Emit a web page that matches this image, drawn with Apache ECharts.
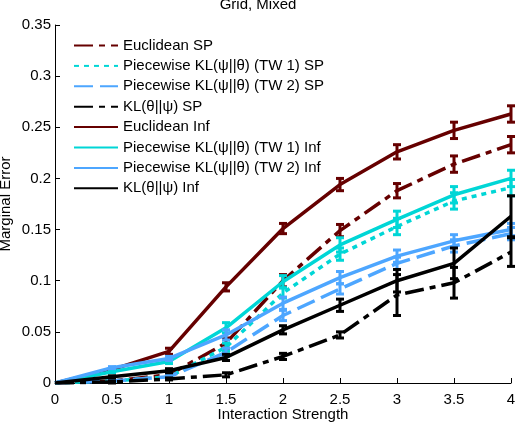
<!DOCTYPE html>
<html>
<head>
<meta charset="utf-8">
<title>Grid, Mixed</title>
<script src="https://cdn.jsdelivr.net/npm/echarts@6/dist/echarts.min.js"></script>
<style>
html,body{margin:0;padding:0;background:#fff;}
#main{width:516px;height:422px;}
</style>
</head>
<body>
<div id="main"></div>
<script>
// interaction strength (x)
var xs = [0, 0.5, 1, 1.5, 2, 2.5, 3, 3.5, 4];
var xTicks = ['0', '0.5', '1', '1.5', '2', '2.5', '3', '3.5', '4'];

// marginal error
var euclidSP  = [0, 0.002, 0.008, 0.039, 0.100, 0.149, 0.188, 0.214, 0.233];
var tw1SP     = [0, 0.002, 0.006, 0.035, 0.088, 0.126, 0.153, 0.178, 0.191];
var tw2SP     = [0, 0.002, 0.006, 0.030, 0.066, 0.092, 0.117, 0.134, 0.146];
var klSP      = [0, 0.001, 0.004, 0.008, 0.026, 0.047, 0.086, 0.098, 0.128];
var euclidInf = [0, 0.013, 0.031, 0.094, 0.151, 0.194, 0.226, 0.247, 0.263];
var tw1Inf    = [0, 0.011, 0.021, 0.054, 0.099, 0.135, 0.160, 0.184, 0.200];
var tw2Inf    = [0, 0.015, 0.024, 0.047, 0.078, 0.103, 0.124, 0.139, 0.150];
var klInf     = [0, 0.006, 0.012, 0.025, 0.052, 0.076, 0.100, 0.117, 0.163];

// half length of the error bars
var euclidSPErr  = [0, 0.001, 0.002, 0.005, 0.006, 0.006, 0.007, 0.008, 0.008];
var tw1SPErr     = [0, 0.001, 0.002, 0.004, 0.005, 0.006, 0.008, 0.008, 0.008];
var tw2SPErr     = [0, 0.001, 0.002, 0.004, 0.005, 0.005, 0.006, 0.006, 0.006];
var klSPErr      = [0, 0.001, 0.001, 0.002, 0.003, 0.003, 0.020, 0.015, 0.014];
var euclidInfErr = [0, 0.001, 0.003, 0.004, 0.005, 0.006, 0.007, 0.008, 0.008];
var tw1InfErr    = [0, 0.001, 0.002, 0.005, 0.006, 0.007, 0.008, 0.008, 0.008];
var tw2InfErr    = [0, 0.001, 0.002, 0.005, 0.006, 0.006, 0.006, 0.006, 0.006];
var klInfErr     = [0, 0.001, 0.002, 0.003, 0.004, 0.006, 0.011, 0.015, 0.020];

var names = [
	'Euclidean SP',
	'Piecewise KL(\u03c8||\u03b8) (TW 1) SP',
	'Piecewise KL(\u03c8||\u03b8) (TW 2) SP',
	'KL(\u03b8||\u03c8) SP',
	'Euclidean Inf',
	'Piecewise KL(\u03c8||\u03b8) (TW 1) Inf',
	'Piecewise KL(\u03c8||\u03b8) (TW 2) Inf',
	'KL(\u03b8||\u03c8) Inf'
];

var DARKRED = '#660000', CYAN = '#00d6d6', BLUE = '#4da6ff', BLACK = '#000000';
var DASHDOT = [19, 6, 6, 6], DOTTED = [5, 5], DASHED = [19, 7];

var lines = [
	{vals: euclidSP,  err: euclidSPErr,  color: DARKRED, type: DASHDOT},
	{vals: tw1SP,     err: tw1SPErr,     color: CYAN,    type: DOTTED},
	{vals: tw2SP,     err: tw2SPErr,     color: BLUE,    type: DASHED},
	{vals: klSP,      err: klSPErr,      color: BLACK,   type: DASHDOT},
	{vals: euclidInf, err: euclidInfErr, color: DARKRED, type: 'solid'},
	{vals: tw1Inf,    err: tw1InfErr,    color: CYAN,    type: 'solid'},
	{vals: tw2Inf,    err: tw2InfErr,    color: BLUE,    type: 'solid'},
	{vals: klInf,     err: klInfErr,     color: BLACK,   type: 'solid'}
];

function errRender(color){
	return function(params, api){
		var x = api.value(0);
		var lo = api.coord([x, api.value(1)]);
		var hi = api.coord([x, api.value(2)]);
		var cw = 4;
		var st = {stroke: color, lineWidth: 3};
		return {type: 'group', children: [
			{type: 'line', shape: {x1: lo[0], y1: lo[1], x2: hi[0], y2: hi[1]}, style: st},
			{type: 'line', shape: {x1: lo[0]-cw, y1: lo[1], x2: lo[0]+cw, y2: lo[1]}, style: st},
			{type: 'line', shape: {x1: hi[0]-cw, y1: hi[1], x2: hi[0]+cw, y2: hi[1]}, style: st}
		]};
	};
}

var series = [];
lines.forEach(function(l, i){
	var pts = [], bars = [];
	for (var k = 0; k < xs.length; k++) {
		pts.push([xs[k], l.vals[k]]);
		if (l.err[k] > 0) bars.push([xs[k], l.vals[k]-l.err[k], l.vals[k]+l.err[k]]);
	}
	series.push({
		name: names[i],
		type: 'line',
		data: pts,
		symbol: 'none',
		z: 2 + i,
		lineStyle: {color: l.color, width: 3.5, type: l.type, cap: 'butt'},
		itemStyle: {color: l.color}
	});
	series.push({
		name: 'err' + i,
		type: 'custom',
		data: bars,
		z: 2 + i,
		clip: false,
		renderItem: errRender(l.color),
		encode: {x: 0, y: [1, 2]}
	});
});

var myChart = echarts.init(document.getElementById('main'));
var option = {
	animation: false,
	backgroundColor: '#fff',
	textStyle: {fontFamily: 'Liberation Sans'},
	title: {
		text: 'Grid, Mixed',
		left: 'center',
		top: 0,
		padding: 0,
		textStyle: {fontSize: 15, lineHeight: 9, fontWeight: 'normal', color: '#000', fontFamily: 'Liberation Sans'}
	},
	legend: {
		data: names,
		orient: 'vertical',
		left: 68,
		top: 33,
		itemWidth: 44,
		itemHeight: 14,
		itemGap: 5.4,
		itemStyle: {opacity: 0},
		textStyle: {fontSize: 15, color: '#000', fontFamily: 'Liberation Sans'}
	},
	grid: {left: 55, right: 5, top: 25, bottom: 39, containLabel: false, outerBoundsMode: 'none'},
	xAxis: {
		type: 'value',
		min: 0, max: 4, interval: 0.5,
		name: 'Interaction Strength',
		nameLocation: 'middle',
		nameGap: 24,
		nameMoveOverlap: false,
		nameTextStyle: {fontSize: 15, color: '#000'},
		axisLine: {onZero: false, lineStyle: {color: '#000', width: 1}},
		axisTick: {inside: true, length: 5, lineStyle: {color: '#000'}},
		axisLabel: {fontSize: 15, color: '#000', margin: 9, formatter: function(v){ return xTicks[Math.round(v*2)]; }},
		splitLine: {show: false}
	},
	yAxis: {
		type: 'value',
		min: 0, max: 0.35, interval: 0.05,
		name: 'Marginal Error',
		nameLocation: 'middle',
		nameGap: 42,
		nameMoveOverlap: false,
		nameTextStyle: {fontSize: 15, color: '#000'},
		axisLine: {show: true, onZero: false, lineStyle: {color: '#000', width: 1}},
		axisTick: {show: true, inside: true, length: 5, lineStyle: {color: '#000'}},
		axisLabel: {fontSize: 15, color: '#000', margin: 4},
		splitLine: {show: false}
	},
	series: series
};
myChart.setOption(option);
</script>
</body>
</html>
